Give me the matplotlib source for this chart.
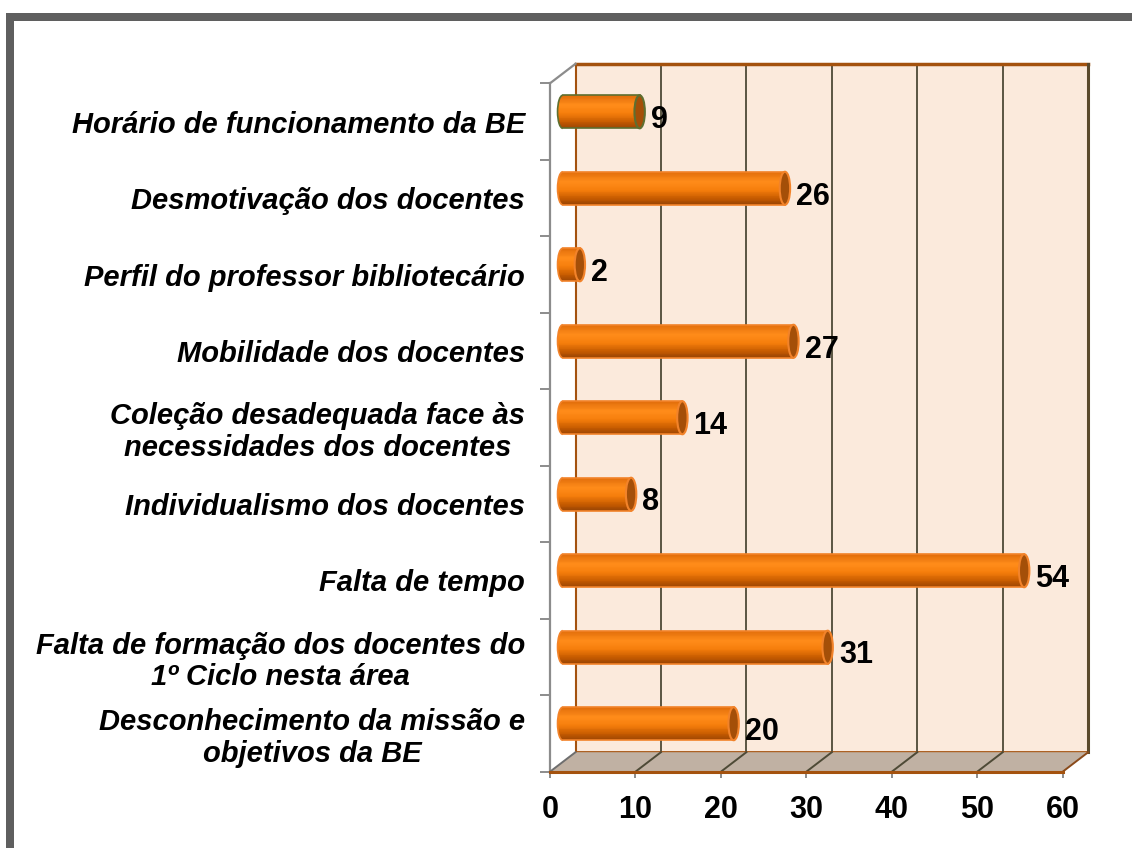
import numpy as np
import matplotlib
matplotlib.use("Agg")
import matplotlib.pyplot as plt
from matplotlib.patches import Rectangle, Polygon, Ellipse, Arc
from matplotlib.transforms import offset_copy, IdentityTransform
from matplotlib.colors import LinearSegmentedColormap
from matplotlib.lines import Line2D

plt.rcParams['font.family'] = ['Liberation Sans', 'DejaVu Sans']

categories = [
    "Horário de funcionamento da BE",
    "Desmotivação dos docentes",
    "Perfil do professor bibliotecário",
    "Mobilidade dos docentes",
    "Coleção desadequada face às\nnecessidades dos docentes",
    "Individualismo dos docentes",
    "Falta de tempo",
    "Falta de formação dos docentes do\n1º Ciclo nesta área",
    "Desconhecimento da missão e\nobjetivos da BE",
]
values = [9, 26, 2, 27, 14, 8, 54, 31, 20]
x_ticks = [0, 10, 20, 30, 40, 50, 60]

W, H = 1132, 848
DPI = 100
fig = plt.figure(figsize=(W / DPI, H / DPI), dpi=DPI)
fig.patch.set_facecolor('white')

# front plane of the plot in pixels
L, R, T, B = 550, 1062.7, 83.3, 771.7
ax = fig.add_axes([L / W, (H - B) / H, (R - L) / W, (B - T) / H])
ax.set_xlim(0, 60)
ax.set_ylim(len(categories), 0)
ax.patch.set_visible(False)
for s in ['top', 'right', 'bottom']:
    ax.spines[s].set_visible(False)
ax.spines['left'].set_color('#8c8c8c')
ax.spines['left'].set_linewidth(1.6)
ax.spines['left'].set_zorder(6)

DX, DY = 25.5, 19.5
back = offset_copy(ax.transData, fig=fig, x=DX, y=DY, units='dots')
mid = offset_copy(ax.transData, fig=fig, x=DX / 2, y=DY / 2, units='dots')

n = len(categories)
wall_c = '#fbeadc'
edge_c = '#a4520e'
grid_c = '#4e4a36'

# back wall
ax.add_patch(Rectangle((0, 0), 60, n, transform=back, facecolor=wall_c,
                       edgecolor='none', zorder=1, clip_on=False))
for xv in x_ticks[1:-1]:
    ax.add_line(Line2D([xv, xv], [0, n], transform=back, color=grid_c, lw=1.3,
                       zorder=2, clip_on=False))
ax.add_line(Line2D([0, 60], [0, 0], transform=back, color=edge_c, lw=2.5, zorder=2, clip_on=False))
ax.add_line(Line2D([0, 0], [0, n], transform=back, color=edge_c, lw=1.5, zorder=2, clip_on=False))
ax.add_line(Line2D([0, 60], [n, n], transform=back, color=edge_c, lw=2, zorder=2, clip_on=False))
ax.add_line(Line2D([60, 60], [0, n], transform=back, color='#5a4a2c', lw=2.2, zorder=2, clip_on=False))

# floor
fl = ax.transData.transform([(0, n), (60, n)])
floor_pts = [fl[0], fl[1], fl[1] + [DX, DY], fl[0] + [DX, DY]]
fig.add_artist(Polygon(floor_pts, closed=True, transform=IdentityTransform(),
                       facecolor='#c0b1a3', edgecolor='none', zorder=1))
for xv in x_ticks:
    p = ax.transData.transform([(xv, n)])[0]
    col = '#6e6e6e' if xv == 0 else ('#8a4a1a' if xv == 60 else grid_c)
    fig.add_artist(Line2D([p[0], p[0] + DX], [p[1], p[1] + DY], transform=IdentityTransform(),
                          color=col, lw=1.4, zorder=2))
fig.add_artist(Line2D([fl[0][0], fl[1][0]], [fl[0][1], fl[1][1]], transform=IdentityTransform(),
                      color=edge_c, lw=2.2, zorder=2))
# side top edge
p0 = ax.transData.transform([(0, 0)])[0]
fig.add_artist(Line2D([p0[0], p0[0] + DX], [p0[1], p0[1] + DY], transform=IdentityTransform(),
                      color='#8c8c8c', lw=1.6, zorder=2))

# cylinders
cmap = LinearSegmentedColormap.from_list('cyl', [
    (0.0, '#e06c0a'), (0.3, '#ff8c1a'), (0.55, '#f67e0c'), (0.8, '#c85c00'), (1.0, '#984404')])
h = 0.432
px_per_unit = (R - L) / 60
r = 5.2 / px_per_unit
N = 40
for i, v in enumerate(values):
    yc = i + 0.5
    t = (np.arange(N) + 0.5) / N
    ys = yc - h / 2 + t * h
    rel = 2 * t - 1
    lefts = -r * np.sqrt(np.clip(1 - rel ** 2, 0, 1))
    widths = v - lefts
    ax.barh(ys, widths, left=lefts, height=h / N * 1.15, color=cmap(t), linewidth=0,
            transform=mid, zorder=3, clip_on=False)
    oc = '#5e6f30' if i == 0 else '#f2832a'
    ax.add_line(Line2D([0, v], [yc - h / 2, yc - h / 2], transform=mid, color=oc, lw=1.2, zorder=4, clip_on=False))
    ax.add_line(Line2D([0, v], [yc + h / 2, yc + h / 2], transform=mid, color=oc, lw=1.2, zorder=4, clip_on=False))
    ax.add_patch(Arc((0, yc), 2 * r, h, theta1=90, theta2=270, transform=mid, color=oc, lw=1.2,
                     zorder=4, clip_on=False))
    ax.add_patch(Ellipse((v, yc), 2 * r, h, transform=mid, facecolor='#a44f08',
                         edgecolor=oc, lw=1.5, zorder=5, clip_on=False))
    lab_t = offset_copy(ax.transData, fig=fig, x=DX / 2 + r * px_per_unit + 6, y=1.5, units='dots')
    ax.text(v, yc, str(v), transform=lab_t, ha='left', va='center', fontsize=22,
            fontweight='bold', color='black', zorder=6)

# axes ticks and labels
ax.set_yticks([i + 0.5 for i in range(n)])
ax.set_yticklabels(categories, fontsize=21, fontweight='bold', fontstyle='italic',
                   multialignment='center', linespacing=1.15)
ax.set_yticks(range(n + 1), minor=True)
ax.tick_params(axis='y', which='major', length=0, pad=18)
ax.tick_params(axis='y', which='minor', length=7.2, width=1.4, color='#8c8c8c', direction='out')
ax.set_xticks(x_ticks)
ax.set_xticklabels([str(x) for x in x_ticks], fontsize=22, fontweight='bold')
ax.tick_params(axis='x', length=4.5, width=1.4, color='#8c8c8c', pad=12)

# outer frame
fig.add_artist(Rectangle((10 / W, -0.05), 1.1, (H - 16.7) / H + 0.05, transform=fig.transFigure,
                         facecolor='none', edgecolor='#5f5f5f', lw=5.76, zorder=10))

fig.savefig('out.png', dpi=DPI)
